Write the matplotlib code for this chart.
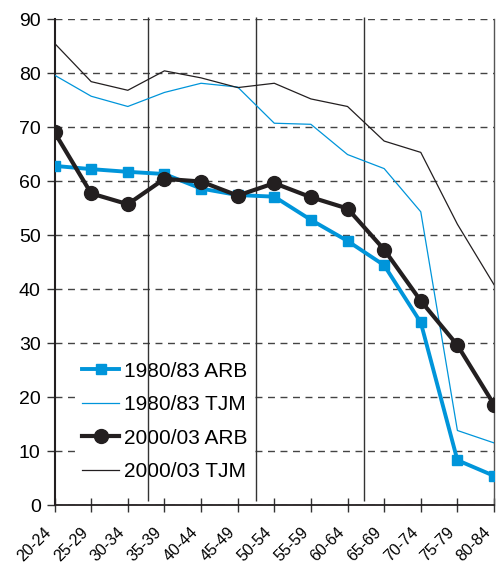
import matplotlib
matplotlib.use("Agg")
import matplotlib.pyplot as plt
import matplotlib.transforms as mtransforms

plt.rcParams['font.family'] = ['Liberation Sans', 'DejaVu Sans']

ages = ["20-24", "25-29", "30-34", "35-39", "40-44", "45-49", "50-54",
        "55-59", "60-64", "65-69", "70-74", "75-79", "80-84"]
arb_1980 = [62.8, 62.2, 61.7, 61.3, 58.6, 57.4, 57.1, 52.8, 48.9, 44.4, 33.8, 8.3, 5.4]
tjm_1980 = [79.6, 75.7, 73.8, 76.4, 78.1, 77.4, 70.7, 70.5, 64.9, 62.3, 54.3, 13.8, 11.5]
arb_2000 = [69.0, 57.7, 55.7, 60.4, 59.9, 57.3, 59.6, 57.0, 54.9, 47.3, 37.8, 29.6, 18.6]
tjm_2000 = [85.5, 78.4, 76.8, 80.4, 79.1, 77.3, 78.1, 75.2, 73.8, 67.4, 65.3, 52.0, 40.8]
sep_lines = [2.55, 5.5, 8.45]

blue = "#0095DA"
black = "#231F20"

fig = plt.figure(figsize=(4.96, 5.64), dpi=100)
ax = fig.add_axes([0.110, 0.1046, 0.886, 0.8617])
x = list(range(len(ages)))

ax.plot(x, arb_1980, color=blue, lw=2.8, marker="s", ms=7, label="1980/83 ARB", zorder=5)
ax.plot(x, tjm_1980, color=blue, lw=0.9, label="1980/83 TJM", zorder=5)
ax.plot(x, arb_2000, color=black, lw=3, marker="o", ms=10, label="2000/03 ARB", zorder=6)
ax.plot(x, tjm_2000, color=black, lw=0.9, label="2000/03 TJM", zorder=5)

ax.vlines(sep_lines, 0.8, 90.4, color="#333333", lw=1, zorder=3, clip_on=False)

ax.set_xlim(0, 12)
ax.set_ylim(0, 90)
ax.set_yticks(range(0, 91, 10))
ax.set_xticks(x)
ax.set_xticklabels(ages, rotation=45, ha="right", va="top", fontsize=11.5)
shift = mtransforms.ScaledTranslation(-6 / 100, 0, fig.dpi_scale_trans)
for lab in ax.get_xticklabels():
    lab.set_transform(lab.get_transform() + shift)
ax.tick_params(axis="y", labelsize=14, length=6, width=1, color="#333333", pad=4)
ax.tick_params(axis="x", direction="inout", length=10, width=1, color="#333333", pad=9)

ax.set_axisbelow(True)
ax.yaxis.grid(True, color="#444444", lw=1, linestyle=(0, (5, 4)))

ax.spines["top"].set_visible(False)
ax.spines["left"].set_linewidth(1.5)
ax.spines["left"].set_color(black)
ax.spines["bottom"].set_linewidth(1.3)
ax.spines["bottom"].set_color(black)
ax.spines["right"].set_linewidth(1)
ax.spines["right"].set_color("#555555")

leg = ax.legend(loc="center left", bbox_to_anchor=(0.030, 0.172), frameon=True, fontsize=15,
                handlelength=1.75, handletextpad=0.25, labelspacing=0.7, borderpad=0.2)
leg.get_frame().set_facecolor("white")
leg.get_frame().set_edgecolor("none")
leg.get_frame().set_alpha(1)
leg.set_zorder(2)

fig.savefig("out.png", dpi=100)
